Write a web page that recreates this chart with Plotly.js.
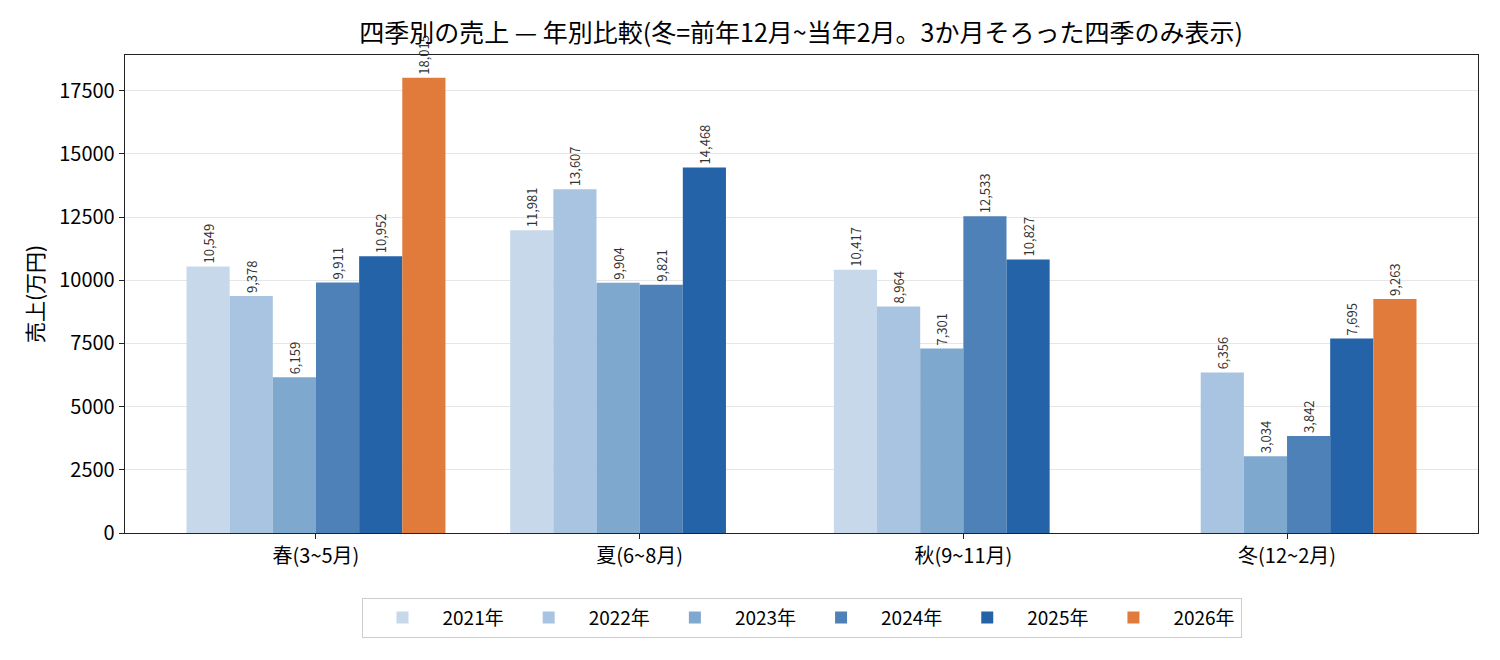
<!DOCTYPE html>
<html>
<head>
<meta charset="utf-8">
<script src="https://cdn.plot.ly/plotly-3.0.1.min.js"></script>
<style>html,body{margin:0;padding:0;background:#fff;}#chart{width:1500px;height:660px;}</style>
</head>
<body>
<div id="chart"></div>
<script>
const seasons = ['春(3~5月)', '夏(6~8月)', '秋(9~11月)', '冬(12~2月)'];
const years = ['2021年', '2022年', '2023年', '2024年', '2025年', '2026年'];
const sales2021 = [10549, 11981, 10417, null];
const sales2022 = [9378, 13607, 8964, 6356];
const sales2023 = [6159, 9904, 7301, 3034];
const sales2024 = [9911, 9821, 12533, 3842];
const sales2025 = [10952, 14468, 10827, 7695];
const sales2026 = [18015, null, null, 9263];
const yearColors = ['#c8d8eb', '#a9c4e1', '#7fa8cf', '#4e81b7', '#2563a8', '#e07b3b'];
const yTicks = [0, 2500, 5000, 7500, 10000, 12500, 15000, 17500];

const series = [sales2021, sales2022, sales2023, sales2024, sales2025, sales2026];
const FONT = '"Noto Sans CJK JP", "Noto Sans", sans-serif';

const traces = series.map((vals, i) => ({
  type: 'bar',
  name: years[i],
  x: seasons,
  y: vals,
  marker: {color: yearColors[i], line: {width: 0}},
  texttemplate: vals.map(v => v == null ? '' : '%{y:,}'),
  textposition: 'outside',
  textangle: -90,
  constraintext: 'none',
  cliponaxis: false,
  textfont: {family: FONT, size: 13, color: '#333333'},
  hoverinfo: 'skip'
}));

const maxVal = Math.max(...series.flat().filter(v => v != null));

const layout = {
  width: 1500,
  height: 660,
  margin: {l: 125, r: 22, t: 55, b: 127},
  paper_bgcolor: '#ffffff',
  plot_bgcolor: '#ffffff',
  font: {family: FONT, size: 19, color: '#000000'},
  title: {
    text: '四季別の売上 — 年別比較(冬=前年12月~当年2月。3か月そろった四季のみ表示)',
    font: {family: FONT, size: 25, color: '#000000'},
    x: 0.534, xanchor: 'center', y: 0.95, yanchor: 'middle'
  },
  barmode: 'group',
  bargap: 0.2,
  bargroupgap: 0,
  xaxis: {
    type: 'category',
    range: [-0.59, 3.59],
    showline: true, linecolor: '#222222', linewidth: 1.3, mirror: true,
    ticks: 'outside', ticklen: 5, tickcolor: '#222222',
    tickfont: {family: FONT, size: 20, color: '#000000'},
    showgrid: false, zeroline: false
  },
  yaxis: {
    range: [0, maxVal * 1.05],
    tickvals: yTicks,
    ticktext: yTicks.map(String),
    showline: true, linecolor: '#222222', linewidth: 1.3, mirror: true,
    ticks: 'outside', ticklen: 5, tickcolor: '#222222',
    tickfont: {family: FONT, size: 20, color: '#000000'},
    showgrid: true, gridcolor: '#e6e6e6', gridwidth: 1,
    zeroline: false,
    title: {text: '売上(万円)', font: {family: FONT, size: 21, color: '#000000'}, standoff: 10}
  },
  legend: {
    orientation: 'h',
    x: 0.5, xanchor: 'center',
    y: -0.135, yanchor: 'top',
    bordercolor: '#cccccc', borderwidth: 1,
    font: {family: FONT, size: 19, color: '#000000'},
    itemwidth: 70,
    traceorder: 'normal'
  },
  showlegend: true
};

Plotly.newPlot('chart', traces, layout, {displayModeBar: false, staticPlot: true});
</script>
</body>
</html>
